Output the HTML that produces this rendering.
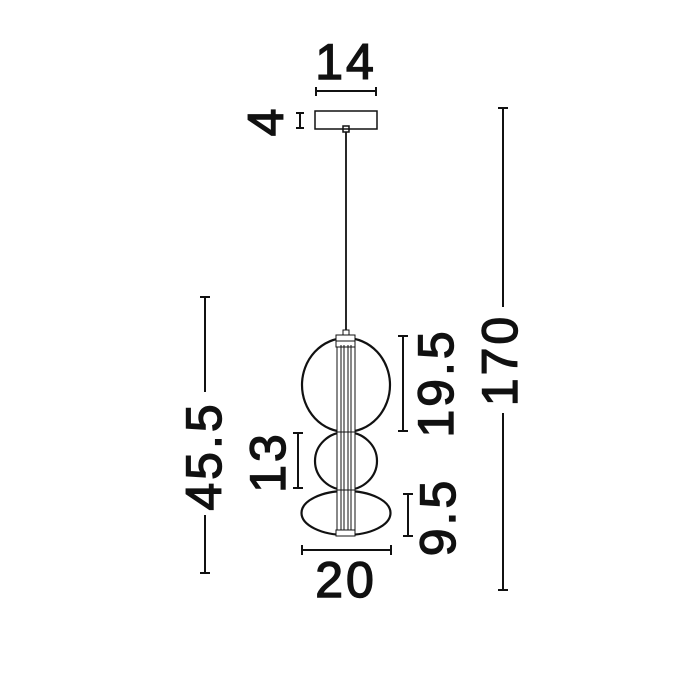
<!DOCTYPE html>
<html><head><meta charset="utf-8"><style>
html,body{margin:0;padding:0;background:#fff;}
svg{display:block;}
text{font-family:"Liberation Sans",Arial,sans-serif;font-size:50px;fill:#111;stroke:#111;stroke-width:1.4px;letter-spacing:3px;}
</style></head><body>
<svg width="700" height="700" viewBox="0 0 700 700" xmlns="http://www.w3.org/2000/svg">
<g stroke="#111" stroke-width="2" fill="none">
  <line x1="316" y1="91" x2="376" y2="91"/>
  <line x1="316" y1="87" x2="316" y2="96"/>
  <line x1="376" y1="87" x2="376" y2="96"/>
  <line x1="300" y1="113" x2="300" y2="128"/>
  <line x1="296" y1="113" x2="304" y2="113"/>
  <line x1="296" y1="128" x2="304" y2="128"/>
  <rect x="315" y="111" width="62" height="18" stroke-width="1.5"/>
  <rect x="343" y="126" width="6" height="6" stroke-width="1.5"/>
  <line x1="346" y1="132" x2="346" y2="331" stroke-width="1.8"/>
  <line x1="503" y1="108" x2="503" y2="307"/>
  <line x1="503" y1="413" x2="503" y2="590"/>
  <line x1="498" y1="108" x2="508" y2="108"/>
  <line x1="498" y1="590" x2="508" y2="590"/>
  <line x1="205" y1="297" x2="205" y2="392"/>
  <line x1="205" y1="515" x2="205" y2="573"/>
  <line x1="200" y1="297" x2="210" y2="297"/>
  <line x1="200" y1="573" x2="210" y2="573"/>
  <line x1="403" y1="336" x2="403" y2="431"/>
  <line x1="398" y1="336" x2="408" y2="336"/>
  <line x1="398" y1="431" x2="408" y2="431"/>
  <line x1="298" y1="433" x2="298" y2="488"/>
  <line x1="293" y1="433" x2="303" y2="433"/>
  <line x1="293" y1="488" x2="303" y2="488"/>
  <line x1="408" y1="494" x2="408" y2="536"/>
  <line x1="403" y1="494" x2="413" y2="494"/>
  <line x1="403" y1="536" x2="413" y2="536"/>
  <line x1="302" y1="550" x2="391" y2="550"/>
  <line x1="302" y1="545" x2="302" y2="555"/>
  <line x1="391" y1="545" x2="391" y2="555"/>
  <ellipse cx="346" cy="385" rx="44" ry="47" stroke-width="2.2"/>
  <ellipse cx="346" cy="461" rx="31" ry="29" stroke-width="2.2"/>
  <ellipse cx="346" cy="513" rx="44.5" ry="22" stroke-width="2.2"/>
</g>
<g stroke="#111" stroke-width="1" fill="#fff">
  <rect x="337" y="345" width="18" height="190"/>
  <rect x="336" y="335" width="19" height="12"/>
  <rect x="343" y="330" width="6" height="5"/>
  <rect x="336" y="530" width="19" height="6"/>
</g>
<g stroke="#111" stroke-width="1">
  <line x1="341" y1="345" x2="341" y2="530"/>
  <line x1="344" y1="345" x2="344" y2="530"/>
  <line x1="348" y1="345" x2="348" y2="530"/>
  <line x1="351" y1="345" x2="351" y2="530"/>
  <line x1="336" y1="341" x2="355" y2="341"/>
  <line x1="337" y1="432" x2="355" y2="432"/>
  <line x1="337" y1="490" x2="355" y2="490"/>
</g>
<text x="346" y="79" text-anchor="middle">14</text>
<text x="265" y="139" text-anchor="middle" transform="rotate(-90 265 121)">4</text>
<text x="346" y="597" text-anchor="middle">20</text>
<text x="0" y="0" text-anchor="middle" transform="translate(499,360) rotate(-90) translate(0,18)">170</text>
<text x="0" y="0" text-anchor="middle" transform="translate(203,456) rotate(-90) translate(0,18)">45.5</text>
<text x="0" y="0" text-anchor="middle" transform="translate(435,383) rotate(-90) translate(0,18)">19.5</text>
<text x="0" y="0" text-anchor="middle" transform="translate(267,462) rotate(-90) translate(0,18)">13</text>
<text x="0" y="0" text-anchor="middle" transform="translate(437,517) rotate(-90) translate(0,18)">9.5</text>
</svg>
</body></html>
